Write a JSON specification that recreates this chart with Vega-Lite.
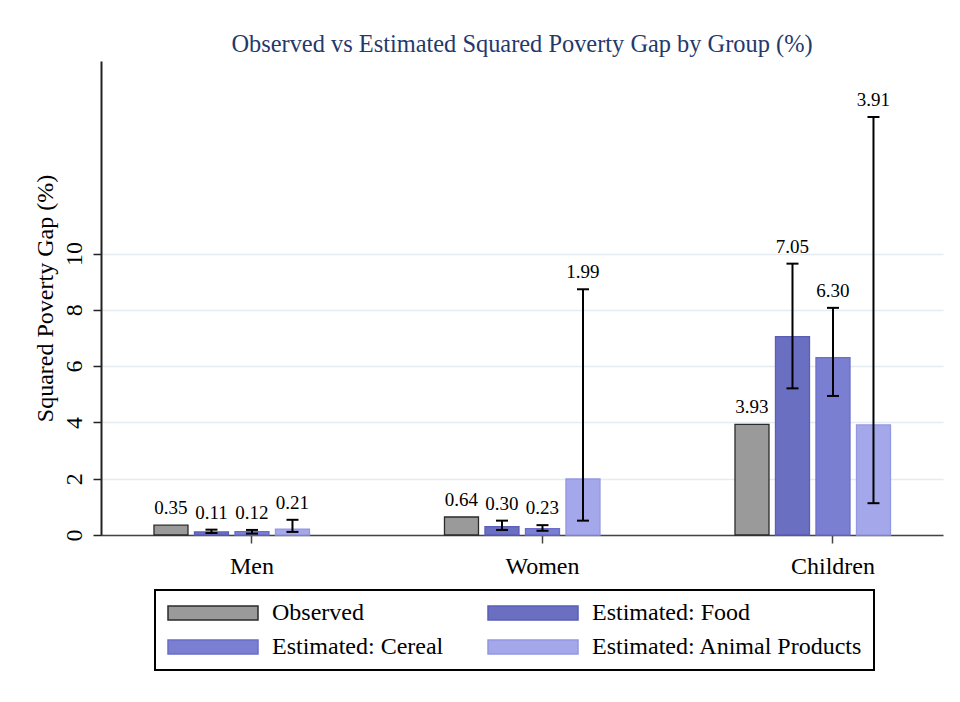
{
  "$schema": "https://vega.github.io/schema/vega-lite/v6.json",
  "width": 842,
  "height": 474,
  "autosize": {"type": "none"},
  "padding": {"left": 101, "top": 61, "right": 17, "bottom": 167},
  "background": "white",
  "title": {
    "text": "Observed vs Estimated Squared Poverty Gap by Group (%)",
    "font": "Liberation Serif",
    "fontSize": 24.4,
    "fontWeight": "normal",
    "color": "#1f3a6b",
    "anchor": "middle",
    "offset": 4
  },
  "config": {
    "view": {"stroke": null},
    "font": "Liberation Serif"
  },
  "data": {
    "values": [
      {"group": "Men", "series": "Observed", "value": 0.35},
      {"group": "Men", "series": "Estimated: Food", "value": 0.11, "lo": 0.07, "hi": 0.19},
      {"group": "Men", "series": "Estimated: Cereal", "value": 0.12, "lo": 0.05, "hi": 0.18},
      {"group": "Men", "series": "Estimated: Animal Products", "value": 0.21, "lo": 0.11, "hi": 0.54},
      {"group": "Women", "series": "Observed", "value": 0.64},
      {"group": "Women", "series": "Estimated: Food", "value": 0.30, "lo": 0.18, "hi": 0.51},
      {"group": "Women", "series": "Estimated: Cereal", "value": 0.23, "lo": 0.15, "hi": 0.35},
      {"group": "Women", "series": "Estimated: Animal Products", "value": 1.99, "lo": 0.51, "hi": 8.73},
      {"group": "Children", "series": "Observed", "value": 3.93},
      {"group": "Children", "series": "Estimated: Food", "value": 7.05, "lo": 5.21, "hi": 9.64},
      {"group": "Children", "series": "Estimated: Cereal", "value": 6.30, "lo": 4.94, "hi": 8.07},
      {"group": "Children", "series": "Estimated: Animal Products", "value": 3.91, "lo": 1.13, "hi": 14.85}
    ]
  },
  "encoding": {
    "x": {
      "field": "group",
      "type": "nominal",
      "sort": ["Men", "Women", "Children"],
      "scale": {"paddingInner": 0.303, "paddingOuter": 0.1007, "align": 0.85},
      "axis": {
        "title": null,
        "labelAngle": 0,
        "labelFontSize": 24,
        "labelColor": "black",
        "labelPadding": 11,
        "domainColor": "#444444",
        "domainWidth": 1.5,
        "tickColor": "#444444",
        "tickWidth": 1.5,
        "tickSize": 8,
        "grid": false
      }
    },
    "xOffset": {
      "field": "series",
      "type": "nominal",
      "scale": {
        "domain": ["Observed", "Estimated: Food", "Estimated: Cereal", "Estimated: Animal Products", "(spare slot)"],
        "paddingInner": 0.16,
        "paddingOuter": 0.08
      }
    }
  },
  "layer": [
    {
      "mark": {"type": "bar", "strokeWidth": 1.3},
      "encoding": {
        "y": {
          "field": "value",
          "type": "quantitative",
          "scale": {"domain": [0, 16.84], "nice": false, "zero": true},
          "axis": {
            "title": "Squared Poverty Gap (%)",
            "titleFontSize": 24,
            "titleFontWeight": "normal",
            "titleColor": "black",
            "titlePadding": 5,
            "values": [0, 2, 4, 6, 8, 10],
            "labelAngle": -90,
            "labelFontSize": 24,
            "labelColor": "black",
            "labelPadding": 7,
            "tickSize": 8,
            "tickColor": "#222222",
            "tickWidth": 1.5,
            "domainColor": "#222222",
            "domainWidth": 2,
            "grid": true,
            "gridColor": "#e4ecf1",
            "gridWidth": 1.5
          }
        },
        "color": {
          "field": "series",
          "type": "nominal",
          "scale": {
            "domain": ["Observed", "Estimated: Food", "Estimated: Cereal", "Estimated: Animal Products"],
            "range": ["#9a9a9a", "#6b6fc1", "#7b7fd1", "#a4a7ea"]
          },
          "legend": {
            "title": null,
            "orient": "none",
            "legendX": 54,
            "legendY": 529,
            "direction": "horizontal",
            "columns": 2,
            "columnPadding": 41,
            "rowPadding": 10,
            "padding": 11,
            "strokeColor": "black",
            "fillColor": "white",
            "cornerRadius": 0,
            "symbolType": "M-1,-0.7H8V0.7H-1Z",
            "symbolSize": 400,
            "symbolStrokeWidth": 1.5,
            "symbolOpacity": 1,
            "labelFontSize": 24,
            "labelColor": "black",
            "labelOffset": 82,
            "labelLimit": 400,
            "encode": {
              "legend": {
                "update": {"strokeWidth": {"value": 2}}
              }
            }
          }
        },
        "stroke": {
          "field": "series",
          "type": "nominal",
          "scale": {
            "domain": ["Observed", "Estimated: Food", "Estimated: Cereal", "Estimated: Animal Products"],
            "range": ["#2b2b2b", "#5a5eb9", "#6a6ec9", "#9498e2"]
          }
        }
      }
    },
    {
      "mark": {"type": "rule", "color": "black", "strokeWidth": 2},
      "encoding": {
        "y": {"field": "lo", "type": "quantitative"},
        "y2": {"field": "hi"}
      }
    },
    {
      "mark": {"type": "tick", "color": "black", "size": 12, "thickness": 2, "opacity": 1},
      "encoding": {"y": {"field": "lo", "type": "quantitative"}}
    },
    {
      "mark": {"type": "tick", "color": "black", "size": 12, "thickness": 2, "opacity": 1},
      "encoding": {"y": {"field": "hi", "type": "quantitative"}}
    },
    {
      "transform": [
        {"calculate": "isValid(datum.hi) ? max(datum.hi, datum.value) : datum.value", "as": "label_at"}
      ],
      "mark": {"type": "text", "baseline": "alphabetic", "dy": -11, "fontSize": 19, "color": "black"},
      "encoding": {
        "y": {"field": "label_at", "type": "quantitative"},
        "text": {"field": "value", "type": "quantitative", "format": ".2f"}
      }
    }
  ]
}
